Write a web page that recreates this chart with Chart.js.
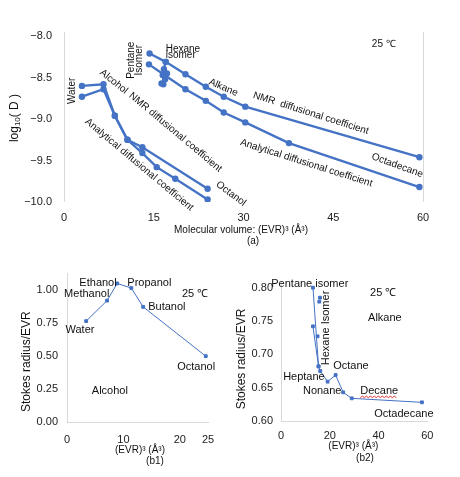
<!DOCTYPE html>
<html>
<head>
<meta charset="utf-8">
<script src="https://cdn.jsdelivr.net/npm/chart.js@4"></script>
<style>
  body { margin: 0; background: #fff; width: 460px; height: 477px; position: relative; overflow: hidden; }
  canvas { position: absolute; }
  #chartA { left: 0; top: 0; }
  #chartB1 { left: 0; top: 250px; }
  #chartB2 { left: 230px; top: 250px; }
</style>
</head>
<body>
<canvas id="chartA" width="460" height="250"></canvas>
<canvas id="chartB1" width="230" height="227"></canvas>
<canvas id="chartB2" width="230" height="227"></canvas>
<script>
// ---- (a) log10(D) vs molecular volume ----
const alcVolNmr = [3.0, 6.6, 8.5, 10.6, 13.1, 24.0];
const alcLogDNmr = [-8.60, -8.58, -8.96, -9.25, -9.34, -9.84];
const alcVolAna = [3.0, 6.6, 8.5, 10.6, 13.1, 15.5, 18.6, 24.0];
const alcLogDAna = [-8.73, -8.64, -8.96, -9.25, -9.41, -9.58, -9.72, -9.97];
const alkVolNmr = [14.3, 17.0, 20.3, 23.7, 26.7, 30.3, 59.4];
const alkLogDNmr = [-8.21, -8.31, -8.46, -8.61, -8.73, -8.85, -9.46];
const alkVolAna = [14.2, 16.6, 20.3, 23.7, 26.7, 30.3, 37.6, 59.4];
const alkLogDAna = [-8.34, -8.46, -8.64, -8.78, -8.92, -9.04, -9.29, -9.82];
const hexIsoVol = [17.0, 16.7, 17.2, 16.5, 16.9, 16.3, 16.6];
const hexIsoLogD = [-8.31, -8.40, -8.45, -8.47, -8.52, -8.57, -8.58];
const xTicksA = [0, 15, 30, 45, 60];
const yTicksA = [-10, -9.5, -9, -8.5, -8];

// ---- (b1) alcohols ----
const b1Vol = [3.4, 7.1, 8.9, 11.4, 13.5, 24.6];
const b1Ratio = [0.765, 0.92, 1.05, 1.015, 0.873, 0.50];
const xTicksB1 = [0, 10, 20, 25];
const yTicksB1 = [0, 0.25, 0.5, 0.75, 1.0];

// ---- (b2) alkanes ----
const b2Vol = [13.1, 15.4, 16.1, 19.1, 22.4, 25.5, 29.0, 57.8];
const b2Ratio = [0.80, 0.682, 0.675, 0.659, 0.669, 0.643, 0.634, 0.628];
const b2PentVol = [13.1, 15.4];
const b2PentRatio = [0.742, 0.682];
const b2HexVol = [15.7, 16.0, 15.0];
const b2HexRatio = [0.779, 0.785, 0.727];
const xTicksB2 = [0, 20, 40, 60];
const yTicksB2 = [0.60, 0.65, 0.70, 0.75, 0.80];

const blue = '#4472c4';
const FONT = '"Liberation Sans", Arial, sans-serif';

function fixedTicks(list) {
    return scale => { scale.ticks = list.map(v => ({ value: v })); };
}

function series(xs, ys, style) {
    return Object.assign({
        data: xs.map((v, i) => ({ x: v, y: ys[i] })),
        showLine: true,
        borderColor: blue,
        backgroundColor: blue,
        pointBorderColor: blue,
        pointHoverRadius: 0
    }, style);
}

// texte des annotations (coordonnées en unités de données) + titres d'axes (pixels)
const textPlugin = {
    id: 'texts',
    afterDraw(chart, args, opts) {
        const { ctx } = chart;
        const xs = chart.scales.x, ys = chart.scales.y;
        ctx.save();
        ctx.fillStyle = '#111';
        (opts.items || []).forEach(it => {
            const px = it.px !== undefined ? it.px : xs.getPixelForValue(it.x);
            const py = it.py !== undefined ? it.py : ys.getPixelForValue(it.y);
            ctx.save();
            ctx.translate(px, py);
            ctx.rotate((it.angle || 0) * Math.PI / 180);
            ctx.textBaseline = 'middle';
            const parts = it.parts || [{ t: it.text, s: it.size || 10 }];
            let total = 0;
            parts.forEach(p => { ctx.font = p.s + 'px ' + FONT; total += ctx.measureText(p.t).width; });
            let cx = it.align === 'left' ? 0 : -total / 2;
            ctx.textAlign = 'left';
            parts.forEach(p => {
                ctx.font = p.s + 'px ' + FONT;
                ctx.fillText(p.t, cx, p.dy || 0);
                cx += ctx.measureText(p.t).width;
            });
            if (it.squiggle) {
                ctx.strokeStyle = '#e03030';
                ctx.lineWidth = 1;
                ctx.beginPath();
                let sx = -total / 2;
                ctx.moveTo(sx, 7);
                let up = true;
                for (let k = sx + 2; k <= total / 2; k += 2) {
                    ctx.lineTo(k, up ? 5.5 : 7);
                    up = !up;
                }
                ctx.stroke();
            }
            ctx.restore();
        });
        ctx.restore();
    }
};

function makeChart(id, datasets, cfg) {
    return new Chart(document.getElementById(id), {
        type: 'scatter',
        data: { datasets: datasets },
        options: {
            responsive: false,
            animation: false,
            layout: { padding: cfg.padding },
            plugins: {
                legend: { display: false },
                tooltip: { enabled: false },
                texts: { items: cfg.texts }
            },
            scales: {
                x: Object.assign({
                    type: 'linear',
                    afterBuildTicks: fixedTicks(cfg.xTicks),
                    afterFit: s => { s.height = cfg.xHeight; },
                    ticks: { padding: cfg.xPad, font: { family: FONT, size: cfg.tickSize }, color: '#222' }
                }, cfg.x),
                y: Object.assign({
                    type: 'linear',
                    afterBuildTicks: fixedTicks(cfg.yTicks),
                    afterFit: s => { s.width = cfg.yWidth; },
                    ticks: {
                        padding: cfg.yPad, font: { family: FONT, size: cfg.tickSize }, color: '#222',
                        callback: v => v.toFixed(cfg.yDigits).replace('-', '\u2212')
                    }
                }, cfg.y)
            }
        },
        plugins: [textPlugin]
    });
}

const topStyle = { borderWidth: 2.3, pointRadius: 3.2, pointBorderWidth: 0 };
const smallStyle = { borderWidth: 1, pointRadius: 2, pointStyle: 'rect' };

// ---------- (a) ----------
makeChart('chartA', [
    series(alcVolNmr, alcLogDNmr, topStyle),
    series(alcVolAna, alcLogDAna, topStyle),
    series(alkVolNmr, alkLogDNmr, topStyle),
    series(alkVolAna, alkLogDAna, topStyle),
    series(hexIsoVol, hexIsoLogD, topStyle)
], {
    padding: { left: 0, right: 37, top: 32, bottom: 0 },
    xTicks: xTicksA, yTicks: yTicksA, xHeight: 48, yWidth: 64,
    xPad: 9, yPad: 12, tickSize: 11, yDigits: 1,
    x: {
        min: 0, max: 60,
        border: { display: false },
        grid: {
            drawTicks: false,
            color: c => (c.tick && (c.tick.value === 0 || c.tick.value === 60)) ? '#d9d9d9' : 'rgba(0,0,0,0)'
        }
    },
    y: { min: -10, max: -7.95, border: { display: false }, grid: { display: false, drawTicks: false } },
    texts: [
        { text: 'Alcohol', x: 8.32, y: -8.55, angle: 39 },
        { text: 'NMR diffusional coefficient', x: 18.64, y: -9.16, angle: 40 },
        { text: 'Analytical diffusional coefficient', x: 12.57, y: -9.55, angle: 40 },
        { text: 'Octanol', x: 27.91, y: -9.90, angle: 37 },
        { text: 'Alkane', x: 26.63, y: -8.62, angle: 23 },
        { text: 'NMR  diffusional coefficient', x: 41.25, y: -8.93, angle: 17.6 },
        { text: 'Analytical diffusional coefficient', x: 40.5, y: -9.53, angle: 17.6 },
        { text: 'Octadecane', x: 55.69, y: -9.56, angle: 20 },
        { text: 'Water', x: 1.34, y: -8.66, angle: -90 },
        { text: 'Pentane', x: 11.2, y: -8.29, angle: -90 },
        { text: 'Isomer', x: 12.65, y: -8.29, angle: -90 },
        { text: 'Hexane', x: 17.0, y: -8.155, align: 'left' },
        { text: 'isomer', x: 17.0, y: -8.236, align: 'left' },
        { text: '25 \u2103', x: 53.45, y: -8.098 },
        { parts: [{ t: 'log', s: 12 }, { t: '10', s: 8, dy: 3 }, { t: '( D )', s: 12 }], px: 15, py: 118, angle: -90 },
        { text: 'Molecular volume: (EVR)\u00b3 (\u00c5\u00b3)', px: 241, py: 230 },
        { text: '(a)', px: 253, py: 241 }
    ]
});

// ---------- (b1) ----------
const axisGray = { display: true, color: '#d9d9d9' };
makeChart('chartB1', [series(b1Vol, b1Ratio, smallStyle)], {
    padding: { left: 0, right: 22, top: 23.5, bottom: 0 },
    xTicks: xTicksB1, yTicks: yTicksB1, xHeight: 54.7, yWidth: 67,
    xPad: 11, yPad: 9, tickSize: 11, yDigits: 2,
    x: { min: 0, max: 25, border: axisGray, grid: { display: false, drawTicks: false } },
    y: { min: 0, max: 1.125, border: axisGray, grid: { display: false, drawTicks: false } },
    texts: [
        { text: 'Ethanol', x: 5.5, y: 1.055, size: 11 },
        { text: 'Methanol', x: 3.5, y: 0.967, size: 11 },
        { text: 'Propanol', x: 14.6, y: 1.055, size: 11 },
        { text: '25 \u2103', x: 22.7, y: 0.967, size: 11 },
        { text: 'Butanol', x: 17.7, y: 0.874, size: 11 },
        { text: 'Water', x: 2.3, y: 0.70, size: 11 },
        { text: 'Octanol', x: 22.9, y: 0.42, size: 11 },
        { text: 'Alcohol', x: 7.6, y: 0.24, size: 11 },
        { text: 'Stokes radius/EVR', px: 26.7, py: 111.7, angle: -90, size: 12 },
        { text: '(EVR)\u00b3 (\u00c5\u00b3)', px: 140, py: 200.7, size: 10 },
        { text: '(b1)', px: 155, py: 211.7, size: 10 }
    ]
});

// ---------- (b2) ----------
makeChart('chartB2', [
    series(b2Vol, b2Ratio, smallStyle),
    series(b2PentVol, b2PentRatio, smallStyle),
    series(b2HexVol, b2HexRatio, Object.assign({}, smallStyle, { showLine: false }))
], {
    padding: { left: 0, right: 32.7, top: 31, bottom: 0 },
    xTicks: xTicksB2, yTicks: yTicksB2, xHeight: 56, yWidth: 51,
    xPad: 8, yPad: 8, tickSize: 11, yDigits: 2,
    x: { min: 0, max: 60, border: axisGray, grid: { display: false, drawTicks: false } },
    y: { min: 0.6, max: 0.81, border: axisGray, grid: { display: false, drawTicks: false } },
    texts: [
        { text: 'Pentane isomer', x: 11.8, y: 0.8053, size: 11 },
        { text: '25 \u2103', x: 41.9, y: 0.7924, size: 11 },
        { text: 'Alkane', x: 42.6, y: 0.755, size: 11 },
        { text: 'Hexane Isomer', x: 18.4, y: 0.7395, angle: -90, size: 11 },
        { text: 'Octane', x: 28.7, y: 0.682, size: 11 },
        { text: 'Heptane', x: 9.4, y: 0.6656, size: 11 },
        { text: 'Nonane', x: 16.9, y: 0.6456, size: 11 },
        { text: 'Decane', x: 40.3, y: 0.6456, size: 11, squiggle: true },
        { text: 'Octadecane', x: 50.4, y: 0.610, size: 11 },
        { text: 'Stokes radius/EVR', px: 11.7, py: 109, angle: -90, size: 12 },
        { text: '(EVR)\u00b3 (\u00c5\u00b3)', px: 123.3, py: 196, size: 10 },
        { text: '(b2)', px: 135, py: 208.3, size: 10 }
    ]
});
</script>
</body>
</html>
